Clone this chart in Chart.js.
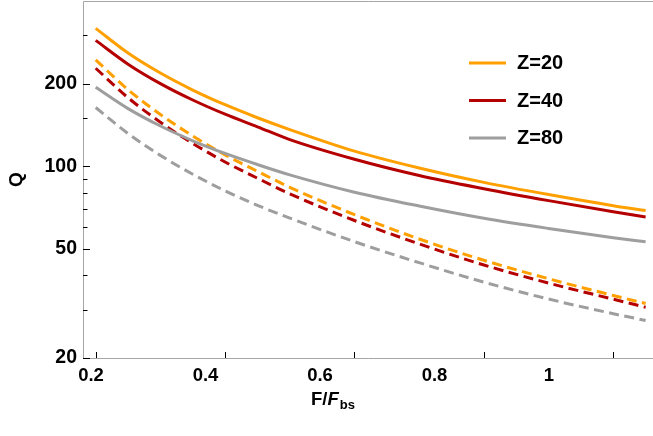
<!DOCTYPE html>
<html>
<head>
<meta charset="utf-8">
<script src="https://cdn.jsdelivr.net/npm/chart.js@4.4.1/dist/chart.umd.min.js"></script>
<style>
html,body{margin:0;padding:0;background:#ffffff;}
#wrap{width:653px;height:436px;position:relative;}
</style>
</head>
<body>
<div id="wrap"><canvas id="c" width="653" height="436"></canvas></div>
<script>
// ---- data ----
const F = [0.2, 0.25, 0.3, 0.35, 0.4, 0.45, 0.5, 0.6, 0.7, 0.8, 0.9, 1.0, 1.05];
const qZ20Solid  = [318, 258.5, 218.5, 189.5, 167.5, 150.2, 136, 113.5, 98.5, 87.3, 78.8, 71.8, 68.9];
const qZ40Solid  = [287.5, 235.5, 200, 174.3, 154.7, 139.2, 125, 106, 92.5, 82.8, 74.9, 68.2, 65.3];
const qZ80Solid  = [193.8, 162.1, 140.1, 123.8, 111.3, 101.4, 93, 80.4, 71.6, 64.6, 59.3, 54.9, 53];
const qZ20Dashed = [244, 190, 154.3, 128.9, 110, 95.8, 83.8, 66.6, 54.3, 45.4, 38.9, 33.8, 31.6];
const qZ40Dashed = [227.5, 177.6, 144.7, 121.1, 103.6, 90.4, 79.3, 63.4, 52.1, 43.65, 37.5, 32.75, 30.6];
const qZ80Dashed = [163.7, 131.5, 109.5, 93.5, 81.3, 72.0, 64.7, 53.1, 44.5, 37.8, 32.8, 29.0, 27.4];
const seriesLabels = ['Z=20', 'Z=40', 'Z=80'];
const xTicks = [0.2, 0.4, 0.6, 0.8, 1];
const yMajorTicks = [20, 50, 100, 200];
const yMinorTicks = [30, 40, 60, 70, 80, 90, 150, 300];

// ---- styles ----
const colors = ['#FFA000', '#B40000', '#9E9E9E'];
const FONT = '"Liberation Sans", Arial, sans-serif';

function pts(ys) { return F.map((x, i) => ({x: x, y: ys[i]})); }

const datasets = [
  {label: seriesLabels[0], data: pts(qZ20Solid),  borderColor: colors[0]},
  {label: seriesLabels[1], data: pts(qZ40Solid),  borderColor: colors[1]},
  {label: seriesLabels[2], data: pts(qZ80Solid),  borderColor: colors[2]},
  {label: seriesLabels[0] + ' (dashed)', data: pts(qZ20Dashed), borderColor: colors[0], borderDash: [10, 5.5]},
  {label: seriesLabels[1] + ' (dashed)', data: pts(qZ40Dashed), borderColor: colors[1], borderDash: [10, 5.5]},
  {label: seriesLabels[2] + ' (dashed)', data: pts(qZ80Dashed), borderColor: colors[2], borderDash: [10, 5.5]}
].map(d => Object.assign({borderWidth: 3, pointRadius: 0, fill: false, cubicInterpolationMode: 'monotone', borderCapStyle: 'butt'}, d));

// frame: left, top, bottom lines (right edge lies outside the picture)
const framePlugin = {
  id: 'frame',
  beforeDatasetsDraw(chart) {
    const {ctx, chartArea: a} = chart;
    ctx.save();
    ctx.strokeStyle = '#A6A6A6';
    ctx.lineWidth = 1;
    ctx.beginPath();
    ctx.moveTo(a.right, a.top + 0.5);
    ctx.lineTo(a.left + 0.5, a.top + 0.5);
    ctx.lineTo(a.left + 0.5, a.bottom + 0.5);
    ctx.lineTo(a.right, a.bottom + 0.5);
    ctx.stroke();
    ctx.restore();
  }
};

// inward tick marks
const tickPlugin = {
  id: 'inTicks',
  afterDatasetsDraw(chart) {
    const {ctx, chartArea: a, scales} = chart;
    ctx.save();
    ctx.strokeStyle = '#000';
    ctx.lineWidth = 1;
    ctx.beginPath();
    yMajorTicks.forEach(v => {
      const y = Math.round(scales.y.getPixelForValue(v)) + 0.5;
      ctx.moveTo(a.left, y); ctx.lineTo(a.left + 7, y);
    });
    yMinorTicks.forEach(v => {
      const y = Math.round(scales.y.getPixelForValue(v)) + 0.5;
      ctx.moveTo(a.left, y); ctx.lineTo(a.left + 4.5, y);
    });
    xTicks.forEach(v => {
      const x = Math.round(scales.x.getPixelForValue(v)) + 0.5;
      ctx.moveTo(x, a.bottom); ctx.lineTo(x, a.bottom - 6);
    });
    ctx.stroke();
    ctx.restore();
  }
};

// legend inside the plot, solid series only
const legendPlugin = {
  id: 'insideLegend',
  afterDraw(chart) {
    const {ctx} = chart;
    ctx.save();
    ctx.font = 'bold 20px ' + FONT;
    ctx.textBaseline = 'middle';
    ctx.textAlign = 'left';
    ctx.fillStyle = '#000';
    const rows = [63, 100.5, 138];
    for (let i = 0; i < 3; i++) {
      const ds = chart.data.datasets[i];
      ctx.strokeStyle = ds.borderColor;
      ctx.lineWidth = 3;
      ctx.beginPath();
      ctx.moveTo(469, rows[i]); ctx.lineTo(506, rows[i]);
      ctx.stroke();
      ctx.fillText(ds.label, 517, rows[i] + 0.5);
    }
    ctx.restore();
  }
};

// x-axis title F/F_bs with italic F and subscript
const xTitlePlugin = {
  id: 'xTitle',
  afterDraw(chart) {
    const {ctx} = chart;
    ctx.save();
    ctx.fillStyle = '#000';
    ctx.textBaseline = 'alphabetic';
    ctx.textAlign = 'left';
    const f1 = 'bold 18.5px ' + FONT;
    const f2 = 'italic bold 18.5px ' + FONT;
    const f3 = 'bold 13px ' + FONT;
    ctx.font = f1; const w1 = ctx.measureText('F/').width;
    ctx.font = f2; const w2 = ctx.measureText('F').width;
    ctx.font = f3; const w3 = ctx.measureText('bs').width;
    const total = w1 + w2 + w3 + 1;
    let x = 333 - total / 2;
    const base = 405;
    ctx.font = f1; ctx.fillText('F/', x, base); x += w1;
    ctx.font = f2; ctx.fillText('F', x, base); x += w2 + 1;
    ctx.font = f3; ctx.fillText('bs', x, base + 3.5);
    ctx.restore();
  }
};

new Chart(document.getElementById('c'), {
  type: 'line',
  data: {datasets: datasets},
  options: {
    responsive: false,
    animation: false,
    devicePixelRatio: 1,
    layout: {padding: {top: 1, left: 0, right: 0, bottom: 0}},
    plugins: {legend: {display: false}, tooltip: {enabled: false}},
    scales: {
      x: {
        type: 'linear',
        position: 'bottom',
        min: 0.18037,
        max: 1.0614,
        grid: {display: false, drawTicks: false},
        border: {display: false},
        ticks: {display: false},
        afterBuildTicks: s => { s.ticks = xTicks.map(v => ({value: v})); },
        afterFit: s => { s.height = 0; s.paddingLeft = 0; s.paddingRight = 0; }
      },
      x2: {
        type: 'linear',
        position: 'bottom',
        min: 0.18603,
        max: 1.18166,
        grid: {display: false, drawTicks: false},
        border: {display: false},
        ticks: {
          autoSkip: false, maxRotation: 0, padding: 6.5,
          color: '#000',
          font: {family: FONT, weight: 'bold', size: 18.5},
          callback: v => String(v)
        },
        afterBuildTicks: s => { s.ticks = xTicks.map(v => ({value: v})); },
        afterFit: s => { s.height = 78; s.paddingLeft = 0; s.paddingRight = 0; }
      },
      y: {
        type: 'logarithmic',
        min: 20,
        max: 400,
        grid: {display: false, drawTicks: false},
        border: {display: false},
        ticks: {
          autoSkip: false, padding: 6,
          color: '#000',
          font: {family: FONT, weight: 'bold', size: 19.5},
          callback: v => (yMajorTicks.includes(v) ? String(v) : '')
        },
        afterBuildTicks: s => {
          s.ticks = yMajorTicks.concat(yMinorTicks).sort((a, b) => a - b).map(v => ({value: v}));
        },
        title: {
          display: true, text: 'Q', color: '#000',
          font: {family: FONT, weight: 'bold', size: 19},
          padding: {top: 5, bottom: 0}
        },
        afterFit: s => { s.width = 83; s.paddingTop = 0; s.paddingBottom = 0; }
      }
    }
  },
  plugins: [framePlugin, tickPlugin, legendPlugin, xTitlePlugin]
});
</script>
</body>
</html>
